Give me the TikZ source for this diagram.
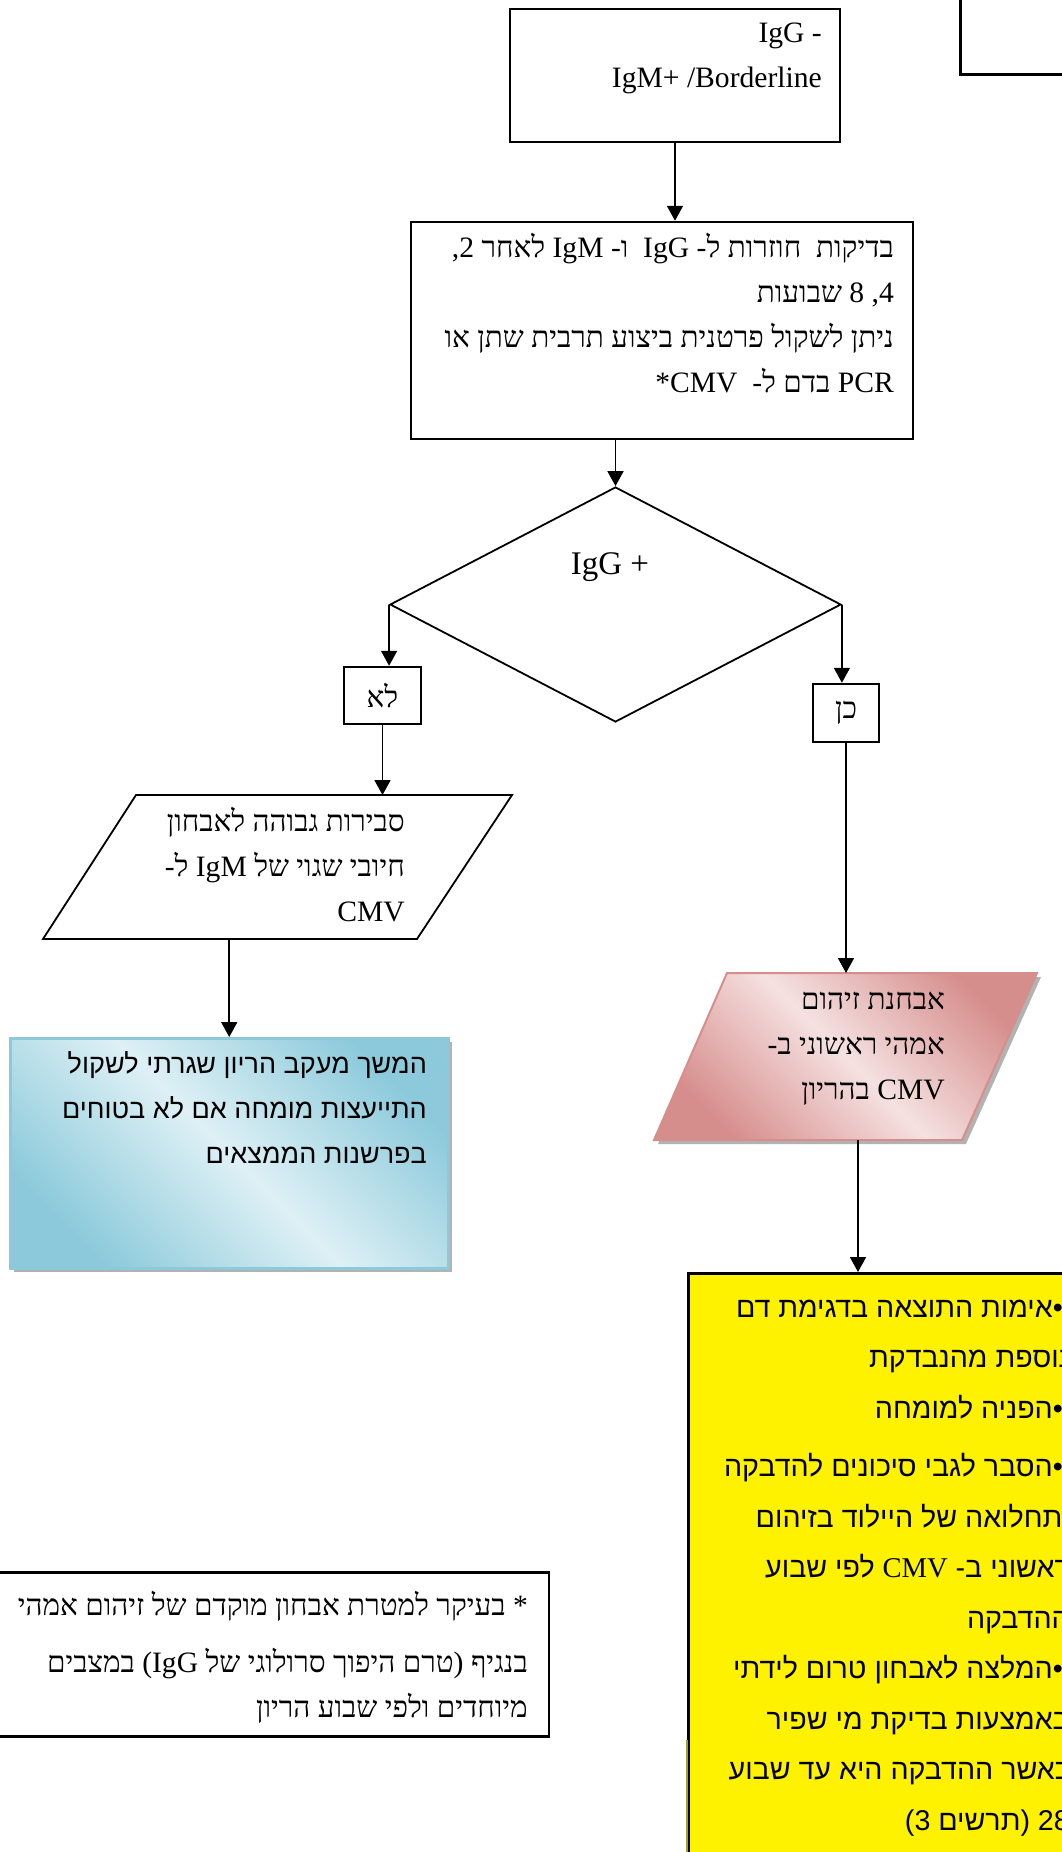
\documentclass[tikz,border=0pt]{standalone}
\usepackage{fontspec}
\setmainfont{Liberation Serif}
\newfontfamily\hebserif[Script=Hebrew]{Liberation Serif}
\newfontfamily\hebsans[Script=Hebrew]{Liberation Sans}
\TeXXeTstate=1
\usetikzlibrary{arrows.meta,shapes.geometric,shadows}
\newcommand{\rtlline}[1]{\beginR #1\endR}
\definecolor{bluedark}{RGB}{140,202,219}
\definecolor{bluelight}{RGB}{222,240,245}
\definecolor{pinkdark}{RGB}{214,142,140}
\definecolor{pinklight}{RGB}{245,225,225}
\definecolor{oliveline}{RGB}{160,160,40}

\begin{document}
\begin{tikzpicture}[x=1pt,y=-1pt,
	flow_box/.style={draw,line width=2.5pt,inner sep=0pt},
	flow_arrow/.style={line width=1.8pt,-{Triangle[length=15pt,width=16pt]}},
	box_shadow/.style={drop shadow={shadow xshift=4pt,shadow yshift=-4pt,fill=gray!60,opacity=1}},
	txt_serif/.style={font=\hebserif\fontsize{29.6}{45}\selectfont,align=right,inner sep=0pt},
	txt_sans/.style={font=\hebsans\fontsize{27}{45}\selectfont,align=right,inner sep=0pt}]

	\useasboundingbox (0,0) rectangle (1062,1852);
	\clip (0,0) rectangle (1062,1852);
	\fill[white] (0,0) rectangle (1062,1852);

	% boxes
	\node[flow_box,anchor=south west,minimum width=200pt,minimum height=150pt] (side) at (959,76) {};
	\node[flow_box,minimum width=330pt,minimum height=133pt] (top) at (675,75.5) {};
	\node[flow_box,minimum width=502pt,minimum height=217pt] (check) at (662,330.5) {};
	\node[draw,diamond,line width=1.8pt,inner sep=0pt,minimum width=451pt,minimum height=235pt] (dia) at (615.5,604.5) {};
	\node[flow_box,minimum width=77pt,minimum height=57pt,font=\hebserif\fontsize{29.6}{36}\selectfont] (no) at (382.5,695.5) {\rtlline{לא}};
	\node[flow_box,minimum width=66pt,minimum height=58pt,font=\hebserif\fontsize{29.6}{36}\selectfont] (yes) at (846,713) {\rtlline{כן}};

	\coordinate (lp_nw) at (136,795);
	\coordinate (lp_ne) at (512,795);
	\coordinate (lp_se) at (417,939);
	\coordinate (lp_sw) at (43,939);
	\draw[line width=1.8pt] (lp_nw) -- (lp_ne) -- (lp_se) -- (lp_sw) -- cycle;

	\coordinate (pk_nw) at (727,973);
	\coordinate (pk_ne) at (1037,973);
	\coordinate (pk_se) at (962,1140);
	\coordinate (pk_sw) at (654,1140);
	\coordinate (pk_out) at (858,1140);
	\draw[box_shadow,draw=pinkdark,line width=2pt,top color=pinkdark,bottom color=pinkdark,middle color=pinklight,shading angle=-45]
		(pk_nw) -- (pk_ne) -- (pk_se) -- (pk_sw) -- cycle;

	\node[flow_box,box_shadow,anchor=north west,draw=bluedark,minimum width=438pt,minimum height=230pt,
		top color=bluedark,bottom color=bluedark,middle color=bluelight,shading angle=-45] (blue) at (9,1037) {};
	\node[flow_box,anchor=north west,fill=yellow,minimum width=500pt,minimum height=700pt] (result) at (687,1272) {};
	\draw[oliveline,line width=2.5pt] (result.north west |- 0,1740) -- (result.north west |- 0,1900);
	\node[flow_box,anchor=north east,minimum width=560pt,minimum height=164pt] (note) at (550,1571) {};

	% texts
	\node[txt_serif,anchor=north east] (top_txt) at (822,10.5) {\strut IgG -\\IgM+ /Borderline};
	\node[txt_serif,anchor=north east] (check_txt) at (894,226) {\strut\rtlline{בדיקות\ \ חוזרות ל- IgG\ \ ו- IgM לאחר 2,}\\
		\rtlline{4, 8 שבועות}\\
		\rtlline{ניתן לשקול פרטנית ביצוע תרבית שתן או}\\
		\rtlline{PCR בדם ל-\ \ CMV\kern0pt*}};
	\node[font=\hebserif\fontsize{33}{40}\selectfont] (dia_txt) at (610,567) {IgG\ +};
	\node[txt_serif,anchor=north east] (lp_txt) at (405,799.5) {\strut\rtlline{סבירות גבוהה לאבחון}\\
		\rtlline{חיובי שגוי של IgM ל-}\\
		CMV};
	\node[txt_sans,anchor=north east] (blue_txt) at (427,1042) {\strut\rtlline{המשך מעקב הריון שגרתי לשקול}\\
		\rtlline{התייעצות מומחה אם לא בטוחים}\\
		\rtlline{בפרשנות הממצאים}};
	\node[txt_serif,anchor=north east] (pk_txt) at (945,977.5) {\strut\rtlline{אבחנת זיהום}\\
		\rtlline{אמהי ראשוני ב-}\\
		\rtlline{CMV בהריון}};
	\node[txt_sans,anchor=north east,font=\hebsans\fontsize{28.6}{50.5}\selectfont] (result_txt) at (1070,1281.5) {\strut\rtlline{•אימות התוצאה בדגימת דם}\kern7pt\\
		\rtlline{נוספת מהנבדקת}\\
		\rtlline{•הפניה למומחה}\kern7pt\\[8pt]
		\rtlline{•הסבר לגבי סיכונים להדבקה}\kern7pt\\
		\rtlline{ותחלואה של היילוד בזיהום}\\
		\rtlline{ראשוני ב- {\hebserif CMV} לפי שבוע}\\
		\rtlline{ההדבקה}\\
		\rtlline{•המלצה לאבחון טרום לידתי}\kern7pt\\
		\rtlline{באמצעות בדיקת מי שפיר}\\
		\rtlline{כאשר ההדבקה היא עד שבוע}\\
		\rtlline{28 (תרשים 3)}};
	\node[txt_serif,anchor=north east,font=\hebserif\fontsize{29.6}{49}\selectfont] (note_txt) at (528,1581) {\strut\rtlline{* בעיקר למטרת אבחון מוקדם של זיהום אמהי}\\[8pt]
		\rtlline{בנגיף (טרם היפוך סרולוגי של IgG\kern0pt) במצבים}\\[-4pt]
		\rtlline{מיוחדים ולפי שבוע הריון}};

	% connectors
	\draw[flow_arrow] (top.south) -- (top.south |- check.north);
	\draw[flow_arrow] (dia.north |- check.south) -- (dia.north);
	\draw[flow_arrow] (dia.west) -- (dia.west |- no.north);
	\draw[flow_arrow] (dia.east) -- (dia.east |- yes.north);
	\draw[flow_arrow] (no.south) -- (no.south |- lp_nw);
	\draw[flow_arrow] (blue.north |- lp_sw) -- (blue.north);
	\draw[flow_arrow] (yes.south) -- (yes.south |- pk_nw);
	\draw[flow_arrow] (pk_out) -- (pk_out |- result.north);
\end{tikzpicture}
\end{document}
